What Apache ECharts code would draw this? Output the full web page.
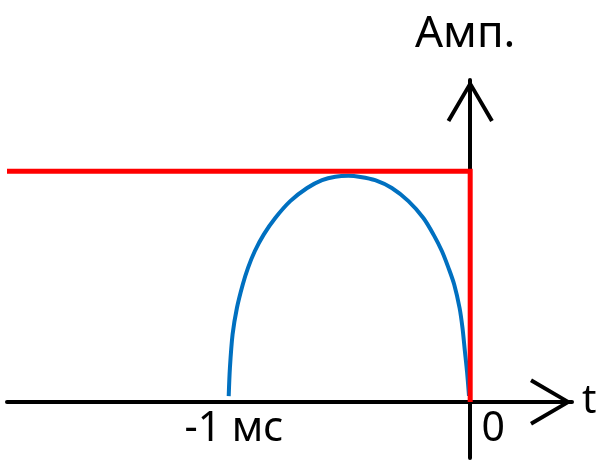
<!DOCTYPE html>
<html>
<head>
<meta charset="utf-8">
<script src="https://cdn.jsdelivr.net/npm/echarts@6/dist/echarts.min.js"></script>
<style>
  html, body {margin: 0; padding: 0; background: #fff;}
  #chart {width: 599px; height: 461px;}
</style>
</head>
<body>
<div id="chart"></div>
<script>
// axis extents (ms / relative amplitude)
const xRange = [-1.92, 0.422];
const yRange = [-0.243, 1.395];
const xTicks = [-1, 0];
const xTickLabels = ['-1 мс', '0'];

// red: rectangular envelope
const envelope = [[-1.92, 1], [0, 1], [0, 0]];
// blue: pulse shape
const pulseX = [-1.001, -0.996, -0.985, -0.967, -0.943, -0.921, -0.893, -0.856, -0.808, -0.746,
  -0.676, -0.614, -0.559, -0.505, -0.455, -0.394, -0.325, -0.256, -0.194, -0.152,
  -0.117, -0.090, -0.066, -0.044, -0.032, -0.022, -0.013, -0.005];
const pulseY = [0.025, 0.147, 0.292, 0.407, 0.508, 0.581, 0.653, 0.725, 0.797, 0.870,
  0.927, 0.961, 0.976, 0.980, 0.975, 0.961, 0.927, 0.870, 0.797, 0.725,
  0.653, 0.581, 0.508, 0.407, 0.321, 0.220, 0.130, 0.026];

const font = 'Noto Sans';
// open chevron used as arrow head (points up, tip at top)
const arrow = 'path://M23.5 0 L47 40 L43.5 42 L23.5 7.5 L3.5 42 L0 40 Z';

const chart = echarts.init(document.getElementById('chart'));
const option = {
  animation: false,
  backgroundColor: '#fff',
  grid: {left: 7, right: 27, top: 80, bottom: 3, outerBoundsMode: 'none'},
  xAxis: {
    type: 'value',
    min: xRange[0],
    max: xRange[1],
    name: 't',
    nameLocation: 'end',
    nameGap: 10,
    nameTextStyle: {fontFamily: font, fontSize: 40, color: '#000'},
    axisLine: {
      onZero: true,
      symbol: ['none', arrow],
      symbolSize: [47, 42],
      symbolOffset: [0, -21],
      lineStyle: {color: '#000', width: 4}
    },
    axisTick: {show: false},
    splitLine: {show: false},
    axisLabel: {
      customValues: xTicks,
      // labels stay at the grid bottom, pull them up under the zero line
      margin: -49,
      formatter: v => v === 0 ? '{z|' + xTickLabels[1] + '}' : '{m|' + xTickLabels[0] + '}',
      rich: {
        m: {fontFamily: font, fontSize: 41, color: '#000', padding: [0, 0, 0, 10]},
        z: {fontFamily: font, fontSize: 41, color: '#000', padding: [0, 0, 0, 46]}
      }
    }
  },
  yAxis: {
    type: 'value',
    min: yRange[0],
    max: yRange[1],
    name: 'Амп.',
    nameLocation: 'end',
    nameGap: 24,
    nameTextStyle: {fontFamily: font, fontSize: 44, color: '#000', padding: [0, 10, 0, 0]},
    axisLine: {
      onZero: true,
      symbol: ['none', arrow],
      symbolSize: [47, 42],
      symbolOffset: [0, -21],
      lineStyle: {color: '#000', width: 4}
    },
    axisTick: {show: false},
    axisLabel: {show: false},
    splitLine: {show: false}
  },
  series: [
    {
      type: 'line',
      data: pulseX.map((x, i) => [x, pulseY[i]]),
      smooth: 0.3,
      symbol: 'none',
      clip: false,
      lineStyle: {color: '#0070C0', width: 4}
    },
    {
      type: 'line',
      data: envelope,
      symbol: 'none',
      clip: false,
      lineStyle: {color: '#FF0000', width: 5, join: 'miter'}
    }
  ]
};
chart.setOption(option);
</script>
</body>
</html>
